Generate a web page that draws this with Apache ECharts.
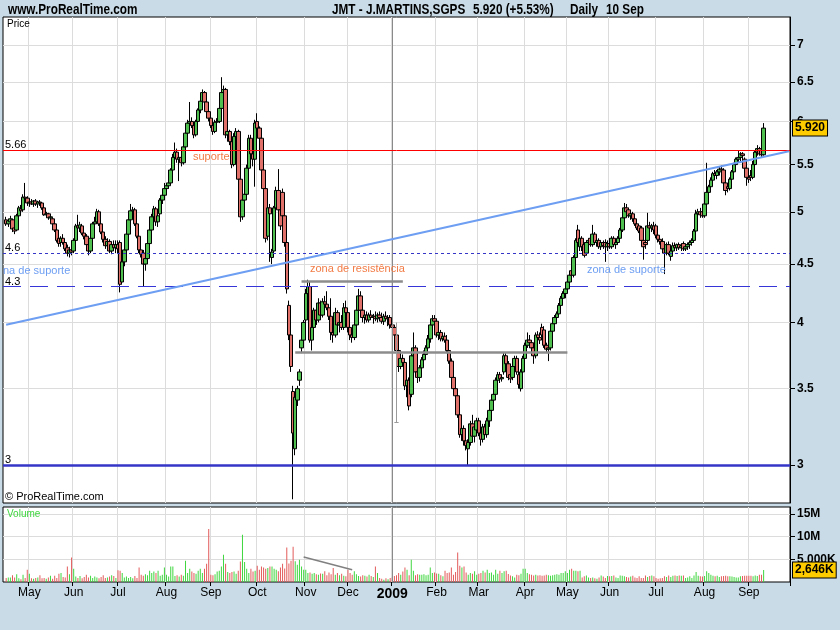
<!DOCTYPE html>
<html><head><meta charset="utf-8">
<script src="https://cdn.jsdelivr.net/npm/echarts@6/dist/echarts.min.js"></script>
<style>html,body{margin:0;padding:0;background:#c9dbe6;}#c{width:840px;height:630px;}</style>
</head><body><div id="c"></div>
<script>
// ---------- DATA ----------
const holidays = ['2008-05-01','2008-12-25','2008-12-26','2009-01-01','2009-04-10','2009-04-13','2009-05-01'];
const firstDay = '2008-04-16', lastDay = '2009-09-10';
// daily [open, high, low, close], one line per month
const prices = [
[4.92,4.95,4.86,4.88],[4.88,4.93,4.85,4.91],[4.90,4.96,4.86,4.93],[4.92,4.93,4.80,4.83],[4.84,4.88,4.78,4.81],[4.82,4.98,4.81,4.96],[4.96,5.06,4.94,5.04],[5.03,5.07,4.99,5.01],[5.02,5.18,5.00,5.15],[5.15,5.30,5.10,5.14],[5.14,5.16,5.06,5.09],
[5.09,5.12,5.05,5.10],[5.10,5.13,5.07,5.08],[5.08,5.12,5.05,5.11],[5.11,5.13,5.06,5.08],[5.08,5.11,5.04,5.10],[5.10,5.12,5.06,5.09],[5.09,5.10,5.02,5.04],[5.04,5.05,4.96,4.97],[4.97,5.00,4.94,4.98],[4.98,4.99,4.92,4.94],[4.94,4.97,4.90,4.95],[4.93,4.94,4.86,4.88],[4.88,4.89,4.80,4.82],[4.82,4.84,4.70,4.72],[4.74,4.80,4.66,4.69],[4.70,4.76,4.66,4.74],[4.74,4.78,4.68,4.70],[4.70,4.73,4.62,4.64],[4.65,4.68,4.57,4.60],[4.60,4.66,4.56,4.63],[4.63,4.68,4.58,4.61],
[4.62,4.74,4.60,4.72],[4.72,4.88,4.70,4.86],[4.86,4.97,4.82,4.84],[4.84,4.90,4.80,4.87],[4.86,4.88,4.77,4.79],[4.79,4.82,4.73,4.76],[4.76,4.78,4.66,4.68],[4.68,4.70,4.58,4.62],[4.62,4.76,4.60,4.74],[4.74,4.90,4.72,4.88],[4.88,4.95,4.84,4.90],[4.90,5.03,4.88,5.00],[5.00,5.02,4.86,4.88],[4.88,4.90,4.78,4.80],[4.80,4.83,4.70,4.73],[4.73,4.76,4.64,4.67],[4.67,4.74,4.62,4.71],[4.71,4.73,4.60,4.62],[4.62,4.70,4.59,4.68],[4.68,4.72,4.62,4.65],[4.65,4.72,4.60,4.68],
[4.68,4.72,4.60,4.64],[4.70,4.72,4.25,4.32],[4.34,4.56,4.32,4.52],[4.52,4.66,4.48,4.63],[4.63,4.82,4.60,4.78],[4.78,4.95,4.75,4.92],[4.92,5.08,4.90,5.01],[5.01,5.05,4.96,5.02],[5.02,5.04,4.86,4.88],[4.88,4.90,4.74,4.76],[4.76,4.78,4.60,4.63],[4.63,4.66,4.56,4.59],[4.60,4.63,4.30,4.50],[4.50,4.58,4.44,4.55],[4.55,4.72,4.52,4.69],[4.69,4.85,4.66,4.82],[4.82,4.98,4.80,4.95],[4.95,5.06,4.92,5.03],[5.03,5.05,4.86,4.90],[4.90,5.00,4.85,4.96],[4.98,5.14,4.96,5.12],[5.12,5.20,5.08,5.17],[5.17,5.30,5.12,5.24],
[5.24,5.30,5.20,5.27],[5.27,5.33,5.24,5.30],[5.30,5.46,5.28,5.44],[5.44,5.62,5.42,5.58],[5.58,5.75,5.55,5.64],[5.64,5.68,5.52,5.56],[5.56,5.62,5.32,5.58],[5.58,5.63,5.48,5.52],[5.52,5.72,5.50,5.70],[5.70,5.90,5.68,5.86],[5.86,6.02,5.84,5.98],[5.98,6.24,5.93,6.00],[6.00,6.05,5.92,5.95],[5.95,5.98,5.80,5.84],[5.84,6.02,5.82,6.00],[6.00,6.16,5.98,6.14],[6.14,6.30,6.10,6.25],[6.25,6.40,6.22,6.36],[6.36,6.38,6.20,6.24],[6.24,6.26,6.08,6.12],[6.12,6.14,6.00,6.04],
[6.04,6.08,5.92,5.95],[5.95,5.98,5.84,5.88],[5.88,6.02,5.86,5.99],[5.99,6.04,5.94,6.00],[6.00,6.20,5.98,6.16],[6.16,6.56,6.12,6.36],[6.36,6.45,6.30,6.40],[6.40,6.42,5.80,5.84],[5.84,5.92,5.76,5.88],[5.88,5.90,5.72,5.76],[5.76,5.80,5.46,5.50],[5.50,5.86,5.48,5.82],[5.82,5.92,5.78,5.88],[5.88,5.90,5.30,5.34],[5.34,5.38,4.90,4.95],[4.95,5.14,4.92,5.12],[5.12,5.22,5.08,5.18],[5.18,5.50,5.16,5.46],[5.46,5.84,5.44,5.80],[5.80,5.84,5.58,5.62],[5.62,5.66,5.48,5.56],[5.56,6.02,5.26,5.98],
[6.00,6.10,5.88,5.92],[5.92,5.94,5.76,5.80],[5.80,5.82,5.40,5.44],[5.44,5.46,5.20,5.24],[5.24,5.26,4.70,4.74],[4.76,5.10,4.72,5.04],[5.04,5.08,4.52,4.98],[4.56,4.64,4.50,4.61],[4.62,5.06,4.60,5.04],[5.04,5.26,5.00,5.22],[5.22,5.45,4.98,5.02],[5.02,5.04,4.82,4.86],[5.20,5.24,4.92,4.96],[4.96,4.98,4.66,4.70],[4.70,4.74,4.24,4.28],[4.14,4.18,3.86,3.90],[3.90,3.92,3.62,3.66],[3.48,3.52,2.80,3.20],[3.10,3.46,3.06,3.44],[3.42,3.52,3.38,3.50],[3.56,3.64,3.52,3.62],[3.80,3.90,3.76,3.86],[3.86,4.02,3.82,4.00],
[4.02,4.28,3.86,4.24],[4.24,4.36,4.18,4.30],[4.30,4.34,3.84,3.86],[3.86,3.98,3.78,3.96],[3.96,4.12,3.94,4.10],[4.10,4.14,3.98,4.02],[4.02,4.20,4.00,4.16],[4.16,4.18,4.02,4.06],[4.06,4.20,4.04,4.17],[4.17,4.22,4.12,4.15],[4.15,4.26,4.10,4.12],[4.12,4.14,4.02,4.05],[4.05,4.20,3.86,3.92],[3.92,3.98,3.84,3.90],[3.90,4.12,3.88,4.08],[4.08,4.10,3.94,3.98],[3.98,4.04,3.92,4.00],[4.00,4.06,3.94,3.96],[3.96,4.16,3.94,4.12],[4.12,4.18,4.04,4.08],
[4.08,4.10,3.92,3.96],[3.96,3.98,3.86,3.90],[3.90,3.94,3.84,3.88],[3.88,4.00,3.86,3.98],[3.98,4.12,3.96,4.10],[4.10,4.28,4.08,4.22],[4.22,4.26,4.08,4.10],[4.10,4.12,4.00,4.04],[4.04,4.08,3.99,4.06],[4.06,4.09,4.00,4.02],[4.02,4.08,4.00,4.06],[4.06,4.10,4.02,4.04],[4.04,4.07,3.99,4.05],[4.05,4.09,4.01,4.03],[4.03,4.08,4.00,4.06],[4.06,4.09,4.02,4.04],[4.04,4.08,3.99,4.01],[4.01,4.07,3.98,4.05],[4.05,4.09,4.01,4.03],[4.03,4.06,3.97,4.04],[4.04,4.06,3.95,3.98],
[3.98,4.04,3.94,3.96],[3.96,3.98,3.86,3.90],[3.90,3.92,3.76,3.78],[3.78,3.80,3.62,3.66],[3.66,3.74,3.64,3.72],[3.72,3.75,3.66,3.69],[3.69,3.71,3.49,3.52],[3.52,3.60,3.44,3.56],[3.56,3.58,3.35,3.38],[3.46,3.76,3.44,3.74],[3.74,3.92,3.72,3.80],[3.80,3.82,3.60,3.62],[3.62,3.66,3.54,3.58],[3.58,3.67,3.55,3.65],[3.65,3.73,3.62,3.71],[3.71,3.78,3.68,3.75],[3.75,3.82,3.72,3.80],[3.80,3.90,3.78,3.87],[3.87,4.00,3.84,3.98],[3.98,4.06,3.96,4.03],[4.03,4.06,3.98,4.01],
[4.01,4.03,3.88,3.90],[3.90,3.95,3.86,3.92],[3.92,3.94,3.85,3.87],[3.87,3.91,3.85,3.89],[3.89,3.92,3.84,3.86],[3.86,3.90,3.76,3.78],[3.78,3.80,3.68,3.70],[3.70,3.72,3.56,3.58],[3.58,3.62,3.48,3.50],[3.50,3.52,3.42,3.45],[3.45,3.47,3.30,3.32],[3.32,3.34,3.17,3.19],[3.19,3.26,3.15,3.23],[3.23,3.25,3.12,3.15],[3.15,3.18,3.09,3.12],[3.10,3.16,3.00,3.14],[3.14,3.28,3.12,3.26],[3.26,3.32,3.15,3.18],[3.18,3.26,3.14,3.24],[3.22,3.30,3.18,3.28],
[3.28,3.30,3.18,3.20],[3.20,3.24,3.12,3.16],[3.16,3.26,3.14,3.24],[3.24,3.26,3.16,3.19],[3.19,3.30,3.17,3.28],[3.28,3.38,3.24,3.35],[3.35,3.44,3.32,3.42],[3.42,3.50,3.38,3.46],[3.46,3.58,3.44,3.56],[3.56,3.62,3.52,3.60],[3.60,3.62,3.54,3.57],[3.57,3.60,3.55,3.58],[3.62,3.76,3.60,3.74],[3.74,3.76,3.64,3.68],[3.68,3.70,3.56,3.58],[3.60,3.62,3.54,3.57],[3.58,3.68,3.56,3.66],[3.66,3.74,3.62,3.72],[3.72,3.74,3.60,3.62],[3.60,3.62,3.50,3.53],[3.50,3.64,3.48,3.62],[3.62,3.74,3.60,3.72],
[3.72,3.84,3.70,3.82],[3.82,3.92,3.80,3.86],[3.86,3.90,3.80,3.84],[3.84,3.86,3.78,3.80],[3.80,3.82,3.68,3.74],[3.74,3.92,3.72,3.90],[3.90,3.93,3.84,3.88],[3.88,3.92,3.83,3.86],[3.96,3.99,3.88,3.90],[3.94,3.97,3.80,3.82],[3.82,3.84,3.76,3.79],[3.79,3.82,3.70,3.80],[3.80,3.95,3.78,3.93],[3.93,4.01,3.91,3.99],[3.99,4.06,3.97,4.04],[4.04,4.09,4.00,4.07],[4.07,4.16,4.05,4.14],[4.14,4.22,4.12,4.20],[4.20,4.26,4.18,4.24],[4.24,4.30,4.20,4.28],
[4.28,4.36,4.26,4.34],[4.34,4.42,4.30,4.40],[4.44,4.46,4.38,4.40],[4.40,4.58,4.38,4.56],[4.56,4.74,4.54,4.72],[4.82,4.87,4.68,4.70],[4.66,4.76,4.62,4.74],[4.74,4.76,4.62,4.66],[4.68,4.70,4.56,4.58],[4.60,4.72,4.58,4.70],[4.70,4.74,4.64,4.72],[4.74,4.76,4.66,4.68],[4.68,4.87,4.66,4.78],[4.78,4.80,4.68,4.70],[4.70,4.74,4.66,4.72],[4.72,4.74,4.64,4.66],[4.66,4.72,4.63,4.70],[4.70,4.72,4.64,4.67],[4.70,4.73,4.52,4.66],[4.66,4.72,4.62,4.69],
[4.69,4.74,4.64,4.66],[4.66,4.76,4.64,4.74],[4.74,4.76,4.66,4.68],[4.68,4.72,4.64,4.70],[4.70,4.76,4.68,4.74],[4.74,4.84,4.72,4.82],[4.82,4.96,4.80,4.94],[4.94,5.09,4.92,5.04],[5.04,5.08,4.98,5.00],[5.02,5.04,4.94,4.96],[4.96,5.00,4.92,4.98],[4.98,5.00,4.90,4.93],[4.93,4.96,4.86,4.88],[4.88,4.90,4.82,4.84],[4.86,4.88,4.79,4.81],[4.84,4.86,4.70,4.72],[4.72,4.74,4.54,4.66],[4.70,4.72,4.64,4.68],[4.72,4.99,4.70,4.86],[4.86,4.90,4.82,4.84],[4.84,4.88,4.80,4.86],[4.86,4.90,4.78,4.82],
[4.86,4.88,4.74,4.77],[4.77,4.80,4.70,4.73],[4.73,4.76,4.68,4.71],[4.71,4.74,4.62,4.64],[4.64,4.70,4.41,4.60],[4.60,4.70,4.58,4.68],[4.68,4.71,4.58,4.60],[4.57,4.64,4.53,4.62],[4.62,4.70,4.60,4.67],[4.67,4.70,4.63,4.65],[4.65,4.69,4.62,4.68],[4.68,4.70,4.63,4.65],[4.65,4.69,4.62,4.67],[4.69,4.71,4.62,4.64],[4.64,4.68,4.62,4.66],[4.66,4.70,4.63,4.68],[4.68,4.72,4.64,4.70],[4.70,4.74,4.67,4.72],[4.72,4.83,4.70,4.81],[4.81,5.02,4.79,4.98],[4.98,5.03,4.93,5.00],[5.00,5.04,4.94,4.97],[5.00,5.02,4.94,4.96],
[4.96,5.10,4.94,5.08],[5.08,5.52,5.06,5.20],[5.20,5.28,5.16,5.26],[5.26,5.36,5.24,5.33],[5.33,5.42,5.30,5.40],[5.40,5.44,5.36,5.38],[5.38,5.44,5.34,5.42],[5.42,5.48,5.38,5.45],[5.45,5.49,5.40,5.44],[5.44,5.46,5.28,5.30],[5.30,5.32,5.17,5.22],[5.26,5.30,5.20,5.24],[5.24,5.36,5.22,5.34],[5.34,5.44,5.32,5.42],[5.42,5.52,5.40,5.50],[5.50,5.58,5.48,5.56],[5.56,5.66,5.52,5.58],[5.58,5.64,5.52,5.62],[5.62,5.64,5.54,5.60],[5.56,5.58,5.44,5.46],[5.46,5.48,5.27,5.36],
[5.36,5.40,5.30,5.34],[5.38,5.44,5.32,5.36],[5.36,5.54,5.34,5.50],[5.50,5.66,5.48,5.64],[5.64,5.72,5.60,5.68],[5.68,5.70,5.60,5.62],[5.66,5.68,5.58,5.61],[5.61,5.98,5.60,5.92]
];
// daily volume in thousands, one line per month
const volume = [
900,1000,1000,1500,1000,1700,800,600,1600,900,2700,
1800,800,700,900,1000,1500,800,900,700,1000,1400,700,1400,900,1800,2000,1100,1000,3400,1700,5400,
2900,1200,900,1300,800,1100,1600,1000,1400,900,1200,1000,800,1100,1500,900,1000,1200,1500,1300,900,
2600,2500,2000,1000,1200,900,1100,800,1300,900,3200,1600,1400,1700,1500,2500,2000,2300,2000,2500,1400,1600,3200,
1600,1200,3400,3400,1300,1500,1200,1600,1400,4700,2000,2900,2300,2000,1800,2500,2900,2000,2900,4000,11700,
1600,1500,1700,2300,2500,3400,6000,4000,2200,2000,2200,2300,1800,2500,4500,10400,4400,2900,2000,2900,2300,2500,
3600,2700,3400,3200,2900,3100,3400,3400,2900,2700,2350,3200,4000,3000,7600,4100,4700,7800,4600,3800,4900,3400,2700,
2700,2000,2100,1800,2000,1700,1600,1900,1800,2350,1500,2100,1700,3100,1600,2000,1500,1800,1400,1250,
2700,2000,1600,2350,1700,1300,1200,1500,1400,1200,1600,1300,1100,3400,2000,900,700,500,800,600,900,
1000,1300,1500,2000,1600,2300,3200,2700,1500,4900,2500,1500,1700,1600,1600,1700,1500,1600,3200,2000,2100,
1900,1800,1500,1250,2500,2000,2100,3200,1600,2200,6500,3600,3200,3400,2100,1600,2000,1800,2350,1600,
1800,2000,2500,2100,2700,2000,2100,1600,2700,1800,2500,2000,2350,2500,1750,1450,1250,1000,1600,1500,1800,2900,
2900,2000,1700,1600,1450,1600,1450,1500,1400,1450,1600,1500,1400,1500,1600,1700,1600,2000,2000,2350,
2000,2700,2900,2500,2500,2350,2500,1000,1250,1450,1000,900,1000,800,730,1000,1450,1200,900,1300,
1250,1300,1450,1000,900,1450,1400,1250,1100,1000,1200,1400,1000,900,1250,900,900,1450,1100,1300,1450,1250,
900,730,850,900,1250,1100,1450,1100,1400,1450,1300,1450,1400,1450,900,1000,1250,900,1450,2200,1400,1250,1200,
1300,2350,2000,1600,1400,1250,1400,1100,1250,1300,1400,1250,1250,1200,1100,1000,1000,1250,1300,1400,1400,
1400,1400,1250,1450,1300,1600,1600,2646
];
const priceTicks = [3, 3.5, 4, 4.5, 5, 5.5, 6, 6.5, 7];
const volumeTicks = [5000, 10000, 15000];
const volumeTickLabels = ['5,000K', '10M', '15M'];
const monthNames = ['Jan','Feb','Mar','Apr','May','Jun','Jul','Aug','Sep','Oct','Nov','Dec'];
const levels = { resistance: 5.66, dotted: 4.6, dashed: 4.3, floor: 3 };
const trendStart = 3.982, trendEnd = 5.65;
const zoneTop = 4.343, zoneBottom = 3.77, spikeTop = 4.0, spikeBottom = 3.27;
const volTrend = [5500, 2700];
const lastClose = 5.92, lastVolume = 2646;

// ---------- BUILD ----------
const dates = [];
{
  const d = new Date(firstDay + 'T00:00:00Z'), end = new Date(lastDay + 'T00:00:00Z');
  while (d <= end) {
    const wd = d.getUTCDay();
    const s = d.toISOString().slice(0, 10);
    if (wd !== 0 && wd !== 6 && holidays.indexOf(s) < 0) dates.push(s);
    d.setUTCDate(d.getUTCDate() + 1);
  }
}
const n = Math.min(dates.length, prices.length);
const cats = ['pad0'].concat(dates.slice(0, n));
for (let i = 1; i <= 12; i++) cats.push('padR' + i);
const monthStart = new Set();
for (let i = 1; i < n; i++) if (dates[i].slice(0, 7) !== dates[i - 1].slice(0, 7)) monthStart.add(i + 1);
const isMonth = (idx) => monthStart.has(idx);
const catOf = (dataIdx) => cats[dataIdx + 1];

const candleData = [];
const volData = [];
for (let i = 0; i < n; i++) {
  const p = prices[i];
  candleData.push([i + 1, p[0], p[3], p[2], p[1]]);
  const up = p[3] >= p[0];
  volData.push({ value: [i + 1, volume[i]], itemStyle: { color: up ? '#3fd63f' : '#e35b5b' } });
}
const y2009 = cats.indexOf(dates.find(s => s.startsWith('2009')));

const FONT = 'Liberation Sans';
const GRID_LINE = '#dcdcdc';
const HIDDEN = 'rgba(0,0,0,0)';

const xBase = {
  type: 'category', data: cats, boundaryGap: true,
  axisLine: { show: false },
  splitLine: { show: true, interval: isMonth, lineStyle: { color: GRID_LINE, width: 1 } }
};

const chart = echarts.init(document.getElementById('c'), null, { renderer: 'canvas', width: 840, height: 630 });
const gline = (a, b, extra) => [Object.assign({ coord: a }, extra || {}), { coord: b }];
const tagLabel = (txt) => ({ show: true, position: 'end', distance: 3, formatter: txt, backgroundColor: '#ffcc00', borderColor: '#000', borderWidth: 1,
  padding: [2, 2, 1, 2], color: '#000', fontFamily: FONT, fontWeight: 'bold', fontSize: 12 });
const headText = (x, txt) => ({ type: 'text', x: x, y: 3, scaleX: 0.84, z: 100,
  style: { text: txt, fontFamily: FONT, fontWeight: 'bold', fontSize: 14, fill: '#000' } });

chart.setOption({
  animation: false,
  backgroundColor: '#c9dbe6',
  grid: [
    { left: 3, top: 17, width: 787, height: 486, show: true, backgroundColor: '#ffffff', borderColor: '#000', borderWidth: 1 },
    { left: 3, top: 507, width: 787, height: 75, show: true, backgroundColor: '#ffffff', borderColor: '#000', borderWidth: 1 }
  ],
  xAxis: [
    Object.assign({}, xBase, { gridIndex: 0, axisTick: { show: false }, axisLabel: { show: false } }),
    Object.assign({}, xBase, {
      gridIndex: 1,
      axisTick: { show: true, interval: isMonth, length: 4, lineStyle: { color: '#000' } },
      axisLabel: {
        show: true, interval: isMonth, margin: 5, color: '#000', fontFamily: FONT, fontSize: 12,
        formatter: (v) => v.slice(0, 7) === '2009-01' ? '{b|2009}' : monthNames[+v.slice(5, 7) - 1],
        rich: { b: { fontFamily: FONT, fontWeight: 'bold', fontSize: 14, color: '#000' } }
      }
    })
  ],
  yAxis: [
    {
      type: 'log', logBase: 10, gridIndex: 0, min: 2.779, max: 7.407, position: 'right',
      axisLine: { show: true, lineStyle: { color: '#000' } },
      axisTick: { show: true, customValues: priceTicks, length: 5, lineStyle: { color: '#000' } },
      axisLabel: { show: true, customValues: priceTicks, margin: 7, color: '#000', fontFamily: FONT, fontWeight: 'bold', fontSize: 12,
        formatter: (v) => String(+(+v).toFixed(2)) },
      splitLine: { show: true, lineStyle: { color: GRID_LINE } }
    },
    {
      type: 'value', gridIndex: 1, min: 0, max: 16544, position: 'right',
      axisLine: { show: true, lineStyle: { color: '#000' } },
      axisTick: { show: true, customValues: volumeTicks, length: 5, lineStyle: { color: '#000' } },
      axisLabel: { show: true, customValues: volumeTicks, margin: 7, color: '#000', fontFamily: FONT, fontWeight: 'bold', fontSize: 12,
        formatter: (v) => volumeTickLabels[volumeTicks.indexOf(Math.round(v))] || '' },
      splitLine: { show: true, lineStyle: { color: GRID_LINE } }
    }
  ],
  series: [
    {
      type: 'candlestick', xAxisIndex: 0, yAxisIndex: 0, data: candleData,
      encode: { x: 0, y: [1, 2, 3, 4] },
      barWidth: 4,
      itemStyle: { color: '#4fbf4f', color0: '#e0706a', borderColor: '#000', borderColor0: '#000', borderWidth: 1 },
      markLine: {
        silent: true, symbol: ['none', 'none'], animation: false,
        label: { show: false },
        data: [
          { xAxis: cats[y2009], lineStyle: { color: '#8a8a8a', width: 1, type: 'solid' } },
          { yAxis: levels.resistance, lineStyle: { color: '#ff0000', width: 1, type: 'solid' } },
          { yAxis: levels.dotted, lineStyle: { color: '#3535c8', width: 1, type: [3, 3] } },
          { yAxis: levels.dashed, lineStyle: { color: '#3535d8', width: 1.2, type: [18, 9] } },
          { yAxis: levels.floor, lineStyle: { color: '#3535c8', width: 2.5, type: 'solid' } },
          gline([cats[1], trendStart], [cats[cats.length - 1], trendEnd], { lineStyle: { color: '#6d9ef2', width: 2, type: 'solid' } }),
          gline([catOf(140), zoneTop], [catOf(188), zoneTop], { lineStyle: { color: '#8c8c8c', width: 2.5, type: 'solid' } }),
          gline([catOf(137), zoneBottom], [catOf(266), zoneBottom], { lineStyle: { color: '#8c8c8c', width: 2.5, type: 'solid' } }),
          gline([catOf(185), spikeTop], [catOf(185), spikeBottom], { lineStyle: { color: '#9a9a9a', width: 1, type: 'solid' } }),
          gline([catOf(184), spikeBottom], [catOf(186), spikeBottom], { lineStyle: { color: '#9a9a9a', width: 1, type: 'solid' } }),
          { yAxis: lastClose, lineStyle: { color: HIDDEN, width: 1 }, label: tagLabel('5.920') }
        ]
      }
    },
    {
      type: 'bar', xAxisIndex: 1, yAxisIndex: 1, data: volData, barWidth: 1,
      markLine: {
        silent: true, symbol: ['none', 'none'], animation: false, label: { show: false },
        data: [
          { xAxis: cats[y2009], lineStyle: { color: '#8a8a8a', width: 1, type: 'solid' } },
          gline([catOf(141), volTrend[0]], [catOf(164), volTrend[1]], { lineStyle: { color: '#808080', width: 1.5, type: 'solid' } }),
          { yAxis: lastVolume, lineStyle: { color: HIDDEN, width: 1 }, label: tagLabel('2,646K') }
        ]
      }
    }
  ],
  graphic: [
    headText(8, 'www.ProRealTime.com'),
    headText(332, 'JMT - J.MARTINS,SGPS'),
    headText(473, '5.920 (+5.53%)'),
    headText(570, 'Daily'),
    headText(606, '10 Sep'),
    { type: 'text', left: 7, top: 19, z: 100, style: { text: 'Price', fontFamily: FONT, fontSize: 10, fill: '#000' } },
    { type: 'text', left: 5, top: 139, z: 100, style: { text: '5.66', fontFamily: FONT, fontSize: 11, fill: '#000' } },
    { type: 'text', left: 5, top: 242, z: 100, style: { text: '4.6', fontFamily: FONT, fontSize: 11, fill: '#000' } },
    { type: 'text', left: 5, top: 276, z: 100, style: { text: '4.3', fontFamily: FONT, fontSize: 11, fill: '#000' } },
    { type: 'text', left: 5, top: 454, z: 100, style: { text: '3', fontFamily: FONT, fontSize: 11, fill: '#000' } },
    { type: 'text', left: 193, top: 151, z: 100, style: { text: 'suporte', fontFamily: FONT, fontSize: 11, fill: '#f27b45' } },
    { type: 'text', left: 310, top: 263, z: 100, style: { text: 'zona de resistência', fontFamily: FONT, fontSize: 11, fill: '#f27b45' } },
    { type: 'text', left: 3, top: 265, z: 100, style: { text: 'na de suporte', fontFamily: FONT, fontSize: 11, fill: '#6d9ef2' } },
    { type: 'text', left: 587, top: 264, z: 100, style: { text: 'zona de suporte', fontFamily: FONT, fontSize: 11, fill: '#6d9ef2' } },
    { type: 'text', left: 5, top: 491, z: 100, style: { text: '© ProRealTime.com', fontFamily: FONT, fontSize: 11, fill: '#000' } },
    { type: 'text', left: 7, top: 509, z: 100, style: { text: 'Volume', fontFamily: FONT, fontSize: 10, fill: '#3fd63f' } }
  ]
});
</script>
</body></html>
